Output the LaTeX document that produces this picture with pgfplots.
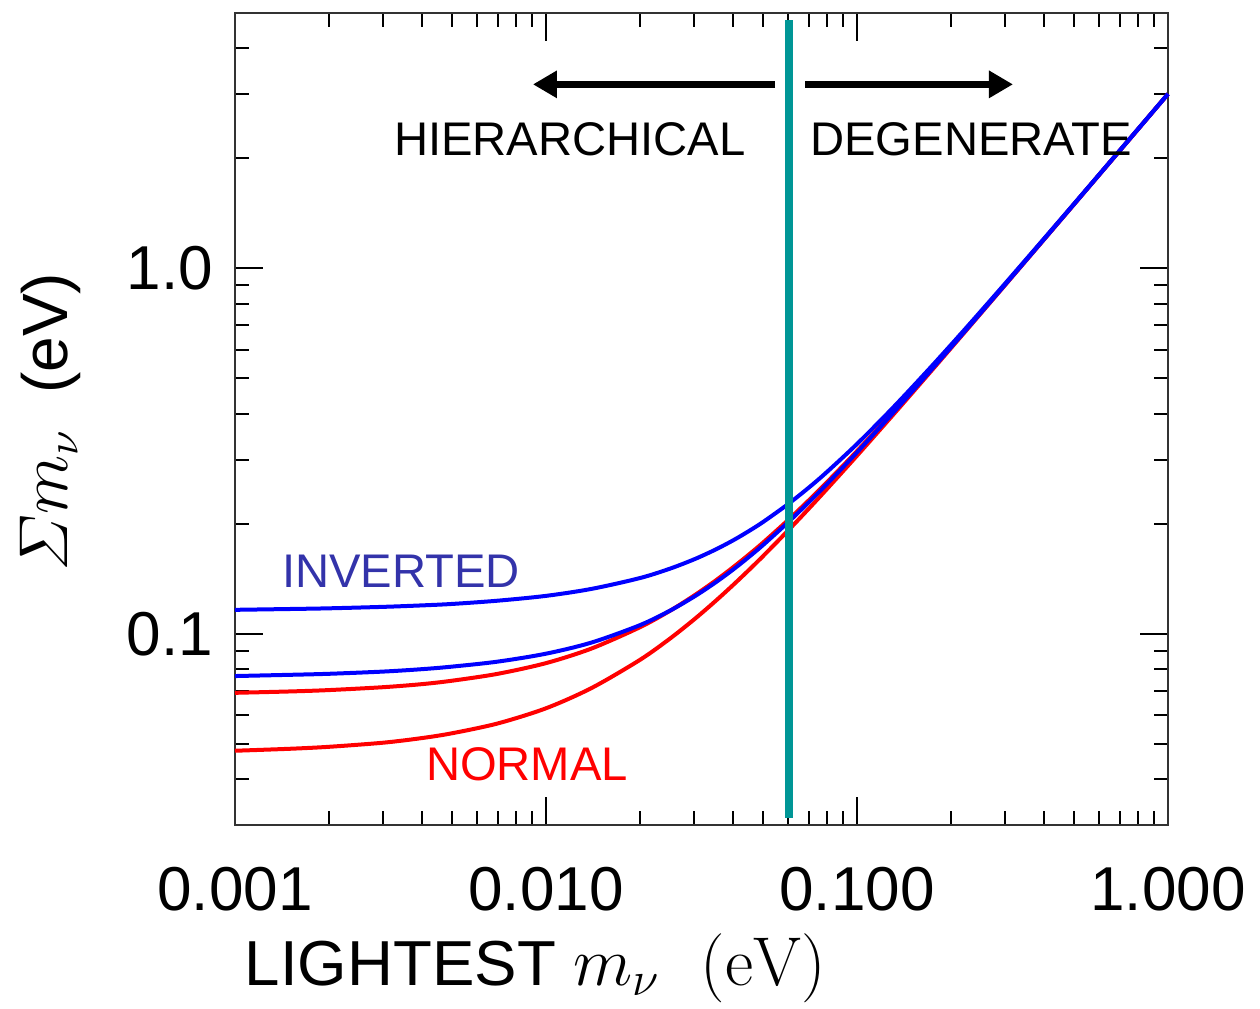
\documentclass[border=0pt]{standalone}
\usepackage[no-math]{fontspec}
\setmainfont{Liberation Sans}
\usepackage{pgfplots}
\usepackage{pgfplotstable}
\pgfplotsset{compat=1.18}
\usetikzlibrary{arrows.meta}
\definecolor{vline}{RGB}{0,150,150}
\definecolor{invblue}{RGB}{51,51,170}

% sum of masses vs lightest mass
\pgfplotstableread{
m      n1     n2     i1     i2
0.001  0.0479 0.0690 0.0767 0.1164
0.0015 0.0485 0.0696 0.0773 0.1170
0.002  0.0491 0.0702 0.0778 0.1175
0.003  0.0504 0.0715 0.0789 0.1186
0.004  0.0519 0.0729 0.0801 0.1197
0.005  0.0535 0.0745 0.0814 0.1208
0.007  0.0569 0.0778 0.0840 0.1233
0.01   0.0626 0.0832 0.0883 0.1271
0.014  0.0711 0.0912 0.0947 0.1328
0.02   0.0848 0.1042 0.1056 0.1421
0.025  0.0970 0.1156 0.1157 0.1508
0.03   0.1097 0.1275 0.1266 0.1601
0.035  0.1228 0.1397 0.1381 0.1700
0.04   0.1362 0.1523 0.1501 0.1804
0.045  0.1498 0.1651 0.1626 0.1914
0.05   0.1636 0.1781 0.1754 0.2027
0.06   0.1917 0.2048 0.2019 0.2265
0.07   0.2202 0.2321 0.2292 0.2514
0.08   0.2491 0.2599 0.2570 0.2773
0.1    0.3074 0.3165 0.3139 0.3309
0.13   0.3958 0.4031 0.4008 0.4145
0.17   0.5144 0.5202 0.5183 0.5291
0.22   0.6634 0.6680 0.6665 0.6749
0.3    0.9025 0.9059 0.9048 0.9110
0.45   1.3517 1.3539 1.3532 1.3574
0.65   1.9512 1.9527 1.9522 1.9551
1.0    3.0008 3.0018 3.0014 3.0033
}\sums

\begin{document}
\begin{tikzpicture}
\begin{axis}[
    name=ax,
    xmode=log, ymode=log,
    scale only axis,
    width=233.25pt, height=203pt,
    xmin=0.001, xmax=1, ymin=0.03, ymax=5,
    xtick={0.001,0.01,0.1,1},
    xticklabels={0.001,0.010,0.100,1.000},
    minor xtick={0.002,0.003,0.004,0.005,0.006,0.007,0.008,0.009,
                 0.02,0.03,0.04,0.05,0.06,0.07,0.08,0.09,
                 0.2,0.3,0.4,0.5,0.6,0.7,0.8,0.9},
    ytick={0.1,1},
    yticklabels={0.1,1.0},
    minor ytick={0.04,0.05,0.06,0.07,0.08,0.09,
                 0.2,0.3,0.4,0.5,0.6,0.7,0.8,0.9,2,3,4},
    major tick length=7pt,
    minor tick length=3.5pt,
    every tick/.style={black, line width=0.5pt},
    axis line style={line width=0.6pt, black!80},
    tick label style={font=\fontsize{15.5}{17}\selectfont},
    xticklabel style={yshift=-7pt},
    yticklabel style={xshift=-2pt},
    xlabel={\fontsize{15.9}{18}\selectfont LIGHTEST {\fontsize{18}{20}\selectfont$m_\nu\ \ \mathrm{(eV)}$}},
    xlabel style={at={(axis description cs:0.322,-0.176)}, anchor=center},
    ylabel={\fontsize{16}{18}\selectfont $\mathnormal{\Sigma} m_\nu$\ \ (eV)},
    ylabel style={at={(axis description cs:-0.198,0.496)}, anchor=center},
    clip=false,
]
\addplot[red, line width=1pt, smooth] table[x=m, y=n1] {\sums};
\addplot[red, line width=1pt, smooth] table[x=m, y=n2] {\sums};
\addplot[blue, line width=1pt, smooth] table[x=m, y=i1] {\sums};
\addplot[blue, line width=1pt, smooth] table[x=m, y=i2] {\sums};
\addplot[vline, line width=1.9pt] coordinates {(0.0604,0.0314) (0.0604,4.77)};

\draw[line width=1.8pt, -{Triangle[length=6pt,width=6.5pt]}]
    (axis cs:0.0545,3.19) -- (axis cs:0.00908,3.19);
\draw[line width=1.8pt, -{Triangle[length=6pt,width=6.5pt]}]
    (axis cs:0.0681,3.19) -- (axis cs:0.3174,3.19);

\node[font=\fontsize{11.8}{14}\selectfont] at (axis cs:0.01194,2.26) {HIERARCHICAL};
\node[font=\fontsize{11.8}{14}\selectfont] at (axis cs:0.2328,2.26) {DEGENERATE};
\node[font=\fontsize{11.8}{14}\selectfont, text=invblue] at (axis cs:0.00342,0.1486) {INVERTED};
\node[font=\fontsize{11.8}{14}\selectfont, text=red] at (axis cs:0.00869,0.0441) {NORMAL};
\end{axis}
\pgfresetboundingbox
\path[use as bounding box] ([xshift=-58.75pt,yshift=-45.75pt]ax.south west)
    rectangle ([xshift=23pt,yshift=3.25pt]ax.north east);
\end{tikzpicture}
\end{document}
